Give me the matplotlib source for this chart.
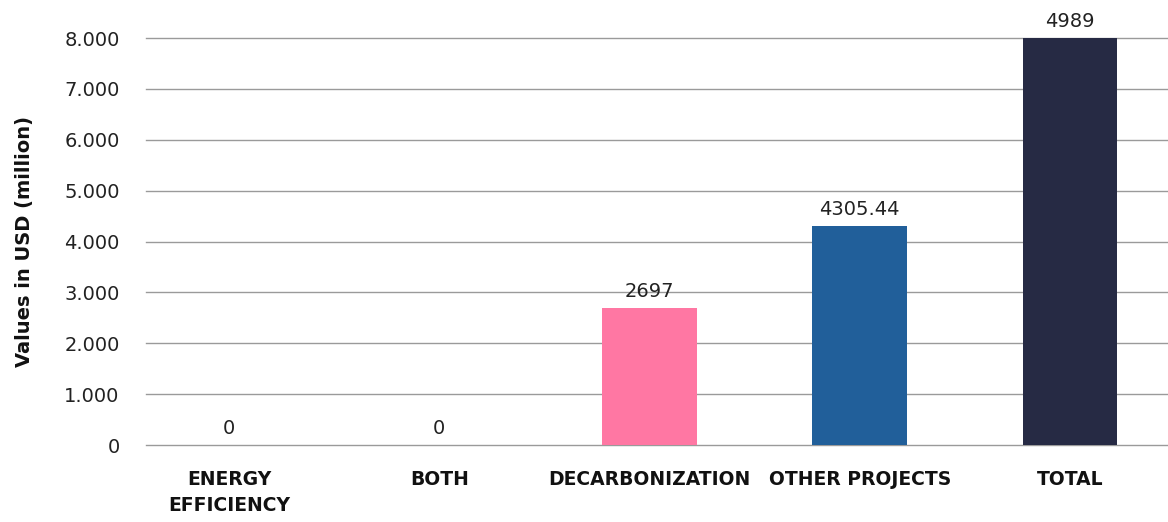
import matplotlib
matplotlib.use("Agg")
import matplotlib.pyplot as plt
from matplotlib.ticker import FuncFormatter

# Data
categories = ["ENERGY\nEFFICIENCY", "BOTH", "DECARBONIZATION", "OTHER PROJECTS", "TOTAL"]
bar_values = [0, 0, 2697, 4305.44, 8000]
value_labels = ["0", "0", "2697", "4305.44", "4989"]
bar_colors = ["#FF77A3", "#FF77A3", "#FF77A3", "#215F9A", "#262A44"]

plt.rcParams["font.family"] = ["DejaVu Sans"]

fig = plt.figure(figsize=(11.68, 5.22), dpi=100)
ax = fig.add_axes([0.125, 0.1475, 0.875, 0.7797])

x = list(range(len(categories)))
bars = ax.bar(x, bar_values, width=0.45, color=bar_colors, zorder=3)

for rect, txt in zip(bars, value_labels):
    ax.annotate(txt, (rect.get_x() + rect.get_width() / 2, rect.get_height()),
                xytext=(0, 5), textcoords="offset points",
                ha="center", va="bottom", fontsize=14, color="#222222")

ax.set_ylim(0, 8000)
ax.set_xlim(-0.395, 4.466)
ax.set_yticks(range(0, 8001, 1000))
ax.yaxis.set_major_formatter(FuncFormatter(lambda v, p: f"{int(v):,}".replace(",", ".")))
ax.grid(axis="y", color="#9a9a9a", linewidth=1.0, zorder=0)
for gl in ax.yaxis.get_gridlines():
    gl.set_clip_on(False)
ax.set_axisbelow(True)
for s in ax.spines.values():
    s.set_visible(False)

ax.tick_params(axis="y", length=0, pad=19, labelsize=14, labelcolor="#222222")
ax.tick_params(axis="x", length=0, pad=18)
ax.set_xticks(x)
ax.set_xticklabels(categories, fontsize=13.5, fontweight="bold", color="#111111",
                   va="top", linespacing=1.45)

ax.set_ylabel("Values in USD (million)", fontsize=14, fontweight="bold",
              color="#111111", labelpad=22)

fig.savefig("out.png", dpi=100)
